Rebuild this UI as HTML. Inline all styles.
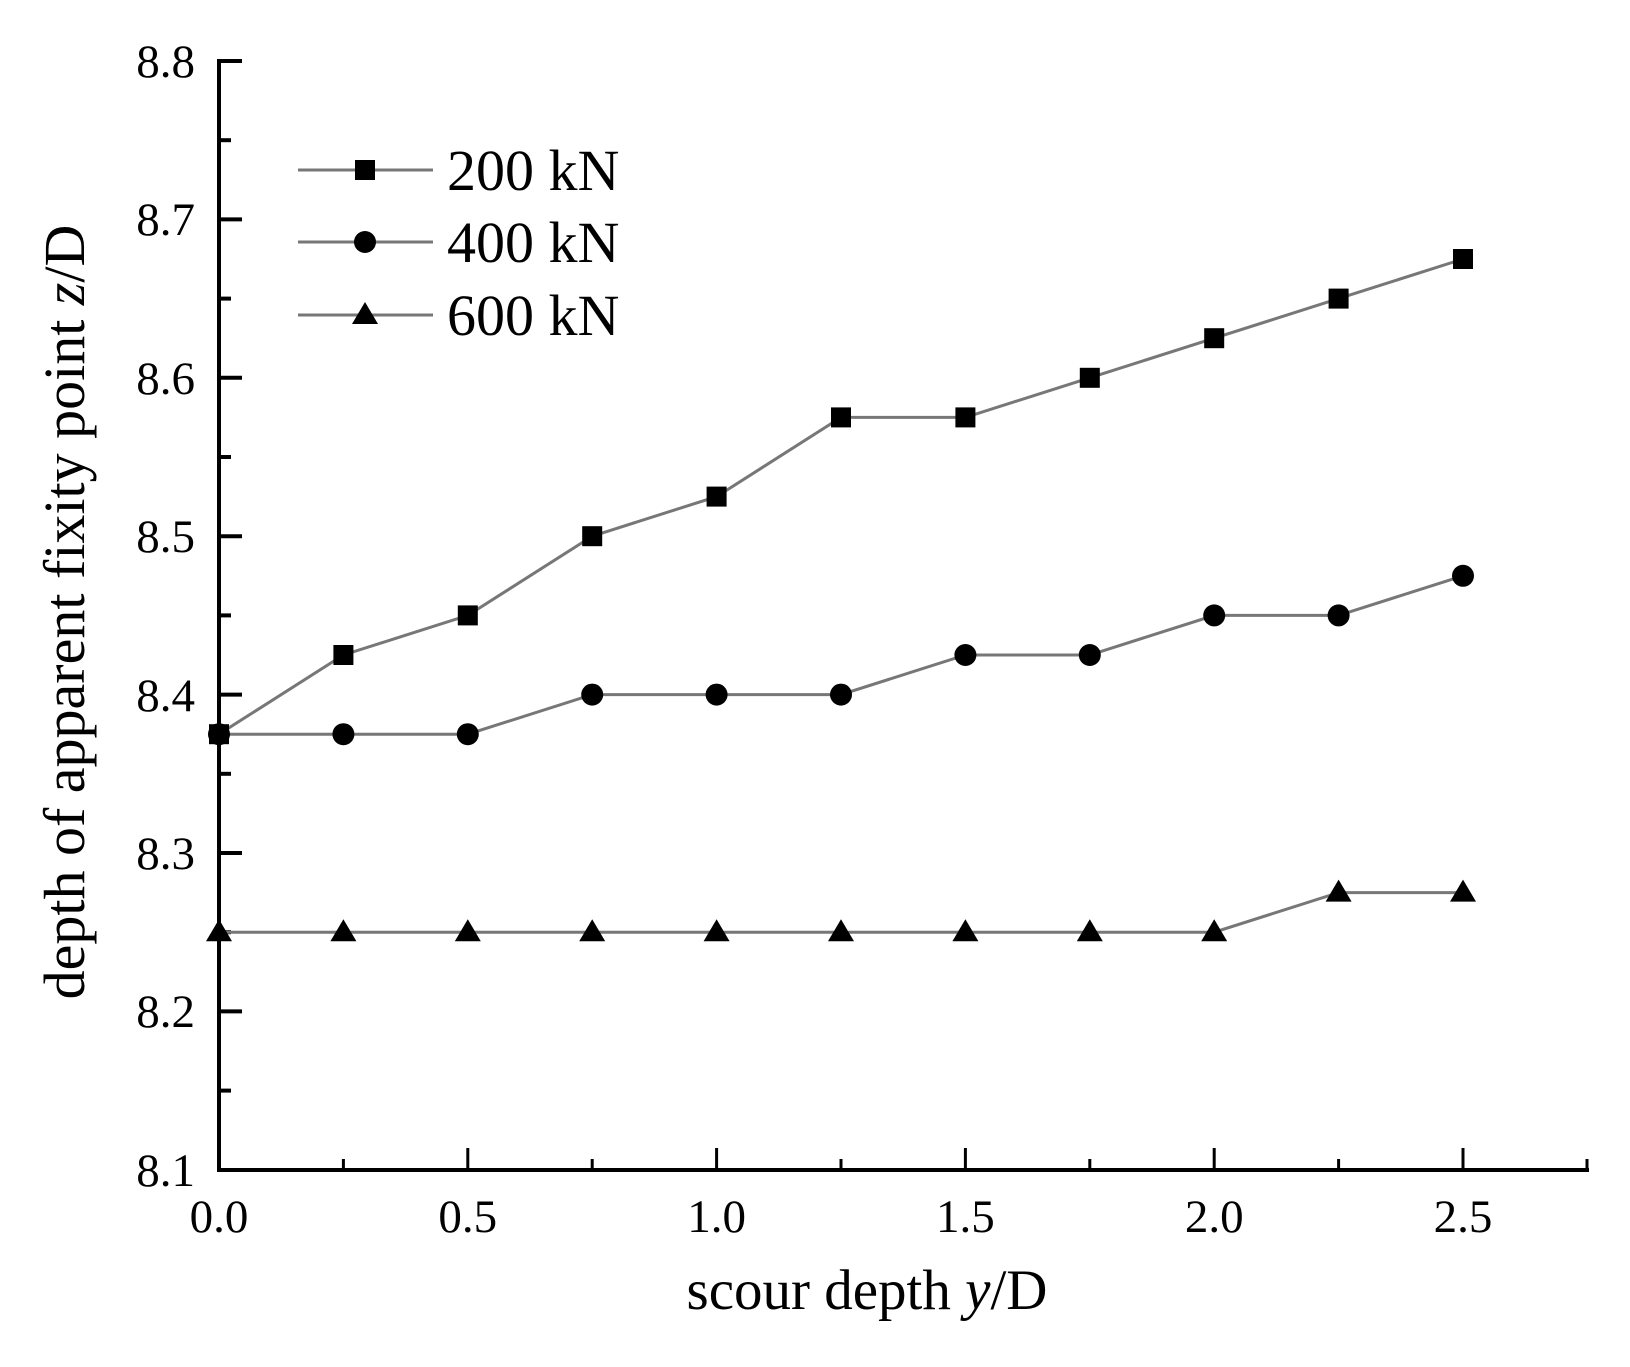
<!DOCTYPE html>
<html><head><style>html,body{margin:0;padding:0;background:#fff}</style></head>
<body>
<svg width="1630" height="1362" viewBox="0 0 1630 1362" xmlns="http://www.w3.org/2000/svg" xmlns:xlink="http://www.w3.org/1999/xlink" font-family="Liberation Serif, serif">
<defs>
<rect id="sq" x="-10" y="-10" width="20" height="20" fill="#000"/>
<circle id="ci" r="11" fill="#000"/>
<polygon id="tr" points="0,-13 13,9 -13,9" fill="#000"/>
</defs>
<g stroke="#000" stroke-width="4">
<line x1="219" y1="59" x2="219" y2="1172"/>
<line x1="217" y1="1170" x2="1589" y2="1170"/>
<line x1="219" y1="61" x2="242" y2="61"/>
<line x1="219" y1="140.2" x2="231" y2="140.2"/>
<line x1="219" y1="219.4" x2="242" y2="219.4"/>
<line x1="219" y1="298.6" x2="231" y2="298.6"/>
<line x1="219" y1="377.8" x2="242" y2="377.8"/>
<line x1="219" y1="457" x2="231" y2="457"/>
<line x1="219" y1="536.2" x2="242" y2="536.2"/>
<line x1="219" y1="615.4" x2="231" y2="615.4"/>
<line x1="219" y1="694.6" x2="242" y2="694.6"/>
<line x1="219" y1="773.8" x2="231" y2="773.8"/>
<line x1="219" y1="853" x2="242" y2="853"/>
<line x1="219" y1="932.2" x2="231" y2="932.2"/>
<line x1="219" y1="1011.4" x2="242" y2="1011.4"/>
<line x1="219" y1="1090.6" x2="231" y2="1090.6"/>
</g>
<g stroke="#000" stroke-width="3">
<line x1="343.4" y1="1170" x2="343.4" y2="1159"/>
<line x1="467.8" y1="1170" x2="467.8" y2="1148"/>
<line x1="592.2" y1="1170" x2="592.2" y2="1159"/>
<line x1="716.6" y1="1170" x2="716.6" y2="1148"/>
<line x1="841" y1="1170" x2="841" y2="1159"/>
<line x1="965.4" y1="1170" x2="965.4" y2="1148"/>
<line x1="1089.8" y1="1170" x2="1089.8" y2="1159"/>
<line x1="1214.2" y1="1170" x2="1214.2" y2="1148"/>
<line x1="1338.6" y1="1170" x2="1338.6" y2="1159"/>
<line x1="1463" y1="1170" x2="1463" y2="1148"/>
<line x1="1587" y1="1170" x2="1587" y2="1159"/>
</g>
<g font-size="47" text-anchor="end">
<text x="195" y="77">8.8</text>
<text x="195" y="235">8.7</text>
<text x="195" y="394">8.6</text>
<text x="195" y="552">8.5</text>
<text x="195" y="711">8.4</text>
<text x="195" y="869">8.3</text>
<text x="195" y="1027">8.2</text>
<text x="195" y="1186">8.1</text>
</g>
<g font-size="47" text-anchor="middle">
<text x="219" y="1232">0.0</text>
<text x="467.8" y="1232">0.5</text>
<text x="716.6" y="1232">1.0</text>
<text x="965.4" y="1232">1.5</text>
<text x="1214.2" y="1232">2.0</text>
<text x="1463" y="1232">2.5</text>
</g>
<text x="867" y="1309" font-size="57" text-anchor="middle">scour depth <tspan font-style="italic">y</tspan>/D</text>
<text transform="translate(84,612) rotate(-90)" font-size="58" text-anchor="middle">depth of apparent fixity point <tspan font-style="italic">z</tspan>/D</text>
<g fill="none" stroke="#777" stroke-width="3">
<polyline points="219,734.2 343.4,655 467.8,615.4 592.2,536.2 716.6,496.6 841,417.4 965.4,417.4 1089.8,377.8 1214.2,338.2 1338.6,298.6 1463,259"/>
<polyline points="219,734.2 343.4,734.2 467.8,734.2 592.2,694.6 716.6,694.6 841,694.6 965.4,655 1089.8,655 1214.2,615.4 1338.6,615.4 1463,575.8"/>
<polyline points="219,932.2 343.4,932.2 467.8,932.2 592.2,932.2 716.6,932.2 841,932.2 965.4,932.2 1089.8,932.2 1214.2,932.2 1338.6,892.6 1463,892.6"/>
<line x1="298" y1="170" x2="433" y2="170"/>
<line x1="298" y1="242" x2="433" y2="242"/>
<line x1="298" y1="315" x2="433" y2="315"/>
</g>
<g>
<use xlink:href="#sq" x="219" y="734.2"/><use xlink:href="#sq" x="343.4" y="655"/><use xlink:href="#sq" x="467.8" y="615.4"/><use xlink:href="#sq" x="592.2" y="536.2"/><use xlink:href="#sq" x="716.6" y="496.6"/><use xlink:href="#sq" x="841" y="417.4"/><use xlink:href="#sq" x="965.4" y="417.4"/><use xlink:href="#sq" x="1089.8" y="377.8"/><use xlink:href="#sq" x="1214.2" y="338.2"/><use xlink:href="#sq" x="1338.6" y="298.6"/><use xlink:href="#sq" x="1463" y="259"/>
<use xlink:href="#ci" x="219" y="734.2"/><use xlink:href="#ci" x="343.4" y="734.2"/><use xlink:href="#ci" x="467.8" y="734.2"/><use xlink:href="#ci" x="592.2" y="694.6"/><use xlink:href="#ci" x="716.6" y="694.6"/><use xlink:href="#ci" x="841" y="694.6"/><use xlink:href="#ci" x="965.4" y="655"/><use xlink:href="#ci" x="1089.8" y="655"/><use xlink:href="#ci" x="1214.2" y="615.4"/><use xlink:href="#ci" x="1338.6" y="615.4"/><use xlink:href="#ci" x="1463" y="575.8"/>
<use xlink:href="#tr" x="219" y="932.2"/><use xlink:href="#tr" x="343.4" y="932.2"/><use xlink:href="#tr" x="467.8" y="932.2"/><use xlink:href="#tr" x="592.2" y="932.2"/><use xlink:href="#tr" x="716.6" y="932.2"/><use xlink:href="#tr" x="841" y="932.2"/><use xlink:href="#tr" x="965.4" y="932.2"/><use xlink:href="#tr" x="1089.8" y="932.2"/><use xlink:href="#tr" x="1214.2" y="932.2"/><use xlink:href="#tr" x="1338.6" y="892.6"/><use xlink:href="#tr" x="1463" y="892.6"/>
<use xlink:href="#sq" x="365" y="170"/><use xlink:href="#ci" x="365" y="242"/><use xlink:href="#tr" x="365" y="315"/>
</g>
<g font-size="58">
<text x="447" y="190">200 kN</text>
<text x="447" y="262">400 kN</text>
<text x="447" y="335">600 kN</text>
</g>
</svg>
</body></html>
